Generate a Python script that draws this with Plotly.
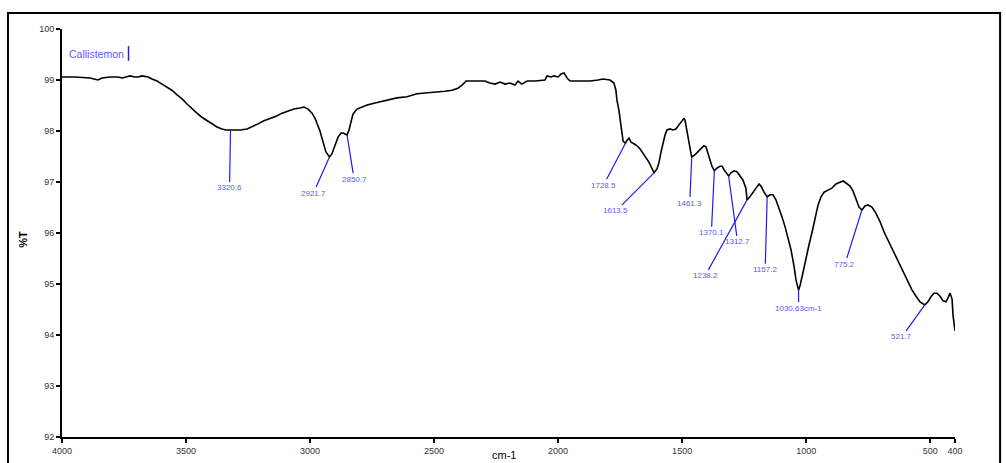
import numpy as np
import plotly.graph_objects as go

# FTIR spectrum of Callistemon: wavenumber (cm-1) and transmittance (%T)
wavenumber = [
    4000, 3948, 3887, 3867, 3855, 3839, 3806, 3774, 3758, 3742, 3726, 3706, 3694, 3677,
    3653, 3637, 3617, 3597, 3577, 3557, 3536, 3516, 3496, 3476, 3456, 3436, 3415, 3395,
    3375, 3355, 3340, 3320.6, 3303, 3282, 3254, 3234, 3210, 3186, 3161, 3137, 3113, 3089,
    3065, 3041, 3024, 3008, 2992, 2980, 2968, 2960, 2952, 2944, 2936, 2921.7, 2912, 2903,
    2895, 2887, 2875, 2867, 2859, 2850.7, 2843, 2835, 2827, 2811, 2791, 2770, 2738, 2698,
    2650, 2609, 2569, 2525, 2484, 2456, 2428, 2404, 2387, 2371, 2335, 2295, 2275, 2254,
    2234, 2214, 2194, 2174, 2162, 2146, 2125, 2093, 2053, 2045, 2029, 2017, 2000, 1988,
    1976, 1964, 1952, 1912, 1871, 1839, 1819, 1791, 1775, 1767, 1763, 1755, 1750, 1746,
    1742, 1738, 1728.5, 1722, 1714, 1706, 1694, 1682, 1670, 1658, 1646, 1634, 1622, 1613.5,
    1601, 1593, 1585, 1577, 1569, 1561, 1549, 1537, 1525, 1513, 1501, 1492, 1488, 1480,
    1472, 1464, 1461.3, 1449, 1437, 1424, 1412, 1404, 1396, 1388, 1380, 1370.1, 1360, 1347,
    1339, 1331, 1323, 1312.7, 1303, 1291, 1279, 1267, 1255, 1243, 1238.2, 1227, 1215, 1202,
    1190, 1182, 1170, 1157.2, 1146, 1134, 1122, 1109, 1097, 1085, 1073, 1061, 1049, 1041,
    1030.63, 1024, 1013, 1001, 989, 976, 964, 952, 940, 928, 912, 896, 880, 864,
    851, 839, 823, 811, 799, 787, 775.2, 763, 751, 735, 719, 702, 686, 670,
    654, 638, 622, 606, 590, 573, 557, 541, 521.7, 509, 497, 485, 473, 460,
    448, 436, 428, 420, 412, 408, 400,
]
transmittance = [
    99.06, 99.06, 99.04, 99.02, 99.00, 99.04, 99.06, 99.06, 99.04, 99.06, 99.08, 99.06, 99.06, 99.08,
    99.06, 99.02, 98.98, 98.92, 98.86, 98.80, 98.71, 98.63, 98.53, 98.43, 98.35, 98.27, 98.20, 98.14,
    98.08, 98.04, 98.02, 98.02, 98.02, 98.02, 98.04, 98.08, 98.14, 98.20, 98.24, 98.29, 98.35, 98.39,
    98.43, 98.45, 98.47, 98.43, 98.35, 98.25, 98.12, 98.00, 97.86, 97.73, 97.59, 97.49, 97.55, 97.67,
    97.78, 97.88, 97.96, 97.96, 97.94, 97.92, 98.02, 98.18, 98.33, 98.43, 98.47, 98.51, 98.55, 98.59,
    98.65, 98.67, 98.73, 98.75, 98.76, 98.78, 98.80, 98.84, 98.90, 98.98, 98.98, 98.98, 98.94, 98.92,
    98.96, 98.92, 98.94, 98.90, 98.98, 98.92, 98.98, 98.98, 99.00, 99.08, 99.06, 99.08, 99.06, 99.12,
    99.14, 99.04, 98.98, 98.98, 98.98, 99.00, 99.02, 99.00, 98.94, 98.80, 98.61, 98.41, 98.22, 98.04,
    97.90, 97.80, 97.76, 97.82, 97.86, 97.78, 97.75, 97.71, 97.65, 97.57, 97.49, 97.39, 97.27, 97.18,
    97.26, 97.39, 97.59, 97.76, 97.92, 98.02, 98.04, 98.02, 98.04, 98.12, 98.20, 98.25, 98.20, 97.96,
    97.73, 97.55, 97.49, 97.53, 97.59, 97.65, 97.71, 97.69, 97.57, 97.43, 97.31, 97.22, 97.27, 97.31,
    97.31, 97.24, 97.18, 97.12, 97.18, 97.22, 97.20, 97.12, 97.04, 96.88, 96.65, 96.71, 96.80, 96.88,
    96.96, 96.92, 96.80, 96.71, 96.75, 96.75, 96.65, 96.49, 96.31, 96.12, 95.92, 95.67, 95.35, 95.08,
    94.88, 94.98, 95.22, 95.51, 95.76, 96.02, 96.29, 96.55, 96.71, 96.80, 96.84, 96.88, 96.96, 97.00,
    97.02, 96.98, 96.92, 96.82, 96.65, 96.51, 96.45, 96.53, 96.55, 96.51, 96.39, 96.22, 96.02, 95.86,
    95.71, 95.55, 95.39, 95.22, 95.04, 94.88, 94.76, 94.65, 94.59, 94.65, 94.75, 94.82, 94.82, 94.76,
    94.67, 94.65, 94.73, 94.82, 94.71, 94.39, 94.08,
]

# Picked peaks and their label text
peak_wn = [3320.6, 2921.7, 2850.7, 1728.5, 1613.5, 1461.3, 1370.1, 1312.7, 1238.2,
           1157.2, 1030.63, 775.2, 521.7]
peak_text = ["3320.6", "2921.7", "2850.7", "1728.5", "1613.5", "1461.3", "1370.1",
             "1312.7", "1238.2", "1157.2", "1030.63cm-1", "775.2", "521.7"]
# Label offsets (pixels) from each peak point
peak_dx = [-1, -16, 7, -22, -38, -2, -3, 9, -42, -2, 0, -17, -23]
peak_dy = [58, 36, 44, 42, 38, 46, 62, 66, 76, 73, 18, 54, 32]

x_ticks = [4000, 3500, 3000, 2500, 2000, 1500, 1000, 500, 400]
y_ticks = [92, 93, 94, 95, 96, 97, 98, 99, 100]

sample_name = "Callistemon"

fig = go.Figure()
fig.add_trace(go.Scatter(
    x=wavenumber, y=transmittance, mode="lines",
    line=dict(color="black", width=1.6),
    hoverinfo="skip", showlegend=False,
))

wn_arr = np.array(wavenumber)[::-1]
t_arr = np.array(transmittance)[::-1]
label_blue = "#5a5af5"
line_blue = "#1c1cf5"
for wn, txt, dx, dy in zip(peak_wn, peak_text, peak_dx, peak_dy):
    t = float(np.interp(wn, wn_arr, t_arr))
    fig.add_annotation(
        x=wn, y=t, xref="x", yref="y", text=txt,
        showarrow=True, arrowhead=0, arrowwidth=1.2, arrowcolor=line_blue,
        ax=dx, ay=dy, standoff=0,
        font=dict(family="Liberation Sans, Arial, sans-serif", size=8, color=label_blue),
    )

# Sample name with text cursor
fig.add_annotation(
    x=0.006, y=0.939, xref="paper", yref="paper", text=sample_name,
    showarrow=False, xanchor="left", yanchor="middle",
    font=dict(family="Liberation Sans, Arial, sans-serif", size=10.5, color="#5a5af5"),
)
fig.add_shape(type="line", xref="paper", yref="paper",
              x0=0.0745, x1=0.0745, y0=0.922, y1=0.958,
              line=dict(color="#2020e0", width=1.5))

# Axis titles
fig.add_annotation(
    x=-0.053, y=0.485, xref="paper", yref="paper", text="<b>%T</b>", textangle=-90,
    showarrow=False, font=dict(family="Liberation Sans, Arial, sans-serif", size=11, color="black"),
)
fig.add_annotation(
    x=0.495, y=-0.044, xref="paper", yref="paper", text="cm-1",
    showarrow=False, yanchor="middle",
    font=dict(family="Liberation Sans, Arial, sans-serif", size=11, color="black"),
)

# Outer frame
fig.add_shape(type="rect", xref="paper", yref="paper",
              x0=-0.0605, x1=1.0505, y0=-0.2, y1=1.0395,
              line=dict(color="black", width=2), fillcolor="rgba(0,0,0,0)", layer="below")

tick_font = dict(family="Liberation Sans, Arial, sans-serif", size=9, color="#333333")
fig.update_xaxes(
    range=[4000, 400], tickvals=x_ticks, ticktext=[str(v) for v in x_ticks],
    showgrid=False, zeroline=False, showline=True, linecolor="black", linewidth=2,
    ticks="outside", ticklen=4, tickwidth=1.5, tickcolor="black", tickfont=tick_font,
    automargin=False,
)
fig.update_yaxes(
    range=[92, 100], tickvals=y_ticks, ticktext=[str(v) for v in y_ticks],
    showgrid=False, zeroline=False, showline=True, linecolor="black", linewidth=2,
    ticks="outside", ticklen=4, tickwidth=1.5, tickcolor="black", tickfont=tick_font,
    automargin=False,
)
fig.update_layout(
    width=1006, height=463,
    margin=dict(l=62, r=51, t=29, b=26, autoexpand=False),
    paper_bgcolor="white", plot_bgcolor="white",
    showlegend=False,
)

fig.write_html("out.html")
